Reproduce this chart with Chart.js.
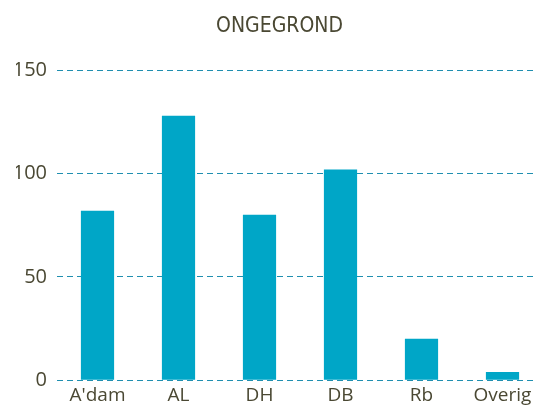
<!DOCTYPE html>
<html lang="nl">
<head>
    <meta charset="utf-8" />
    <title>Ongegrond</title>
    <script src="https://cdn.jsdelivr.net/npm/chart.js"></script>
    <style>
        html, body { margin: 0; padding: 0; overflow: hidden; background: #fff; }
        #wrap { width: 543px; height: 411px; position: relative; }
    </style>
</head>
<body>
    <div id="wrap"><canvas id="myChart"></canvas></div>
    <script>
        // Data
        var categories = ["A'dam", "AL", "DH", "DB", "Rb", "Overig"];
        var values = [82, 128, 80, 102, 20, 4];
        var yTicks = [0, 50, 100, 150];

        var textColor = '#4a4833';
        var barColor = '#00a6c7';

        const ctx = document.getElementById('myChart').getContext('2d');
        new Chart(ctx, {
            type: 'bar',
            data: {
                labels: categories,
                datasets: [{
                    label: 'Ongegrond',
                    data: values,
                    backgroundColor: barColor,
                    borderWidth: 0,
                    categoryPercentage: 1,
                    barPercentage: 0.41
                }]
            },
            options: {
                responsive: true,
                maintainAspectRatio: false,
                animation: false,
                layout: { padding: { top: 4, right: 0, bottom: 0, left: 16 } },
                plugins: {
                    legend: { display: false },
                    tooltip: { enabled: false },
                    title: {
                        display: true,
                        text: 'ONGEGROND',
                        color: textColor,
                        font: { family: "'DejaVu Sans Condensed', 'DejaVu Sans', sans-serif", size: 21, weight: 'normal' },
                        padding: { top: 10, bottom: 31 }
                    }
                },
                scales: {
                    x: {
                        grid: { display: false, drawTicks: false },
                        border: { display: false },
                        ticks: {
                            color: textColor,
                            font: { family: "'Open Sans', sans-serif", size: 19 },
                            padding: 4
                        }
                    },
                    y: {
                        min: 0,
                        max: 150,
                        afterBuildTicks: function (scale) {
                            scale.ticks = yTicks.map(function (v) { return { value: v }; });
                        },
                        afterFit: function (scale) { scale.width = 41; },
                        grid: {
                            color: '#1f8fb0',
                            lineWidth: 1,
                            drawTicks: false
                        },
                        border: { display: false, dash: [6, 4] },
                        ticks: {
                            color: textColor,
                            font: { family: "'Open Sans', sans-serif", size: 20 },
                            padding: 10
                        }
                    }
                }
            }
        });
    </script>
</body>
</html>
